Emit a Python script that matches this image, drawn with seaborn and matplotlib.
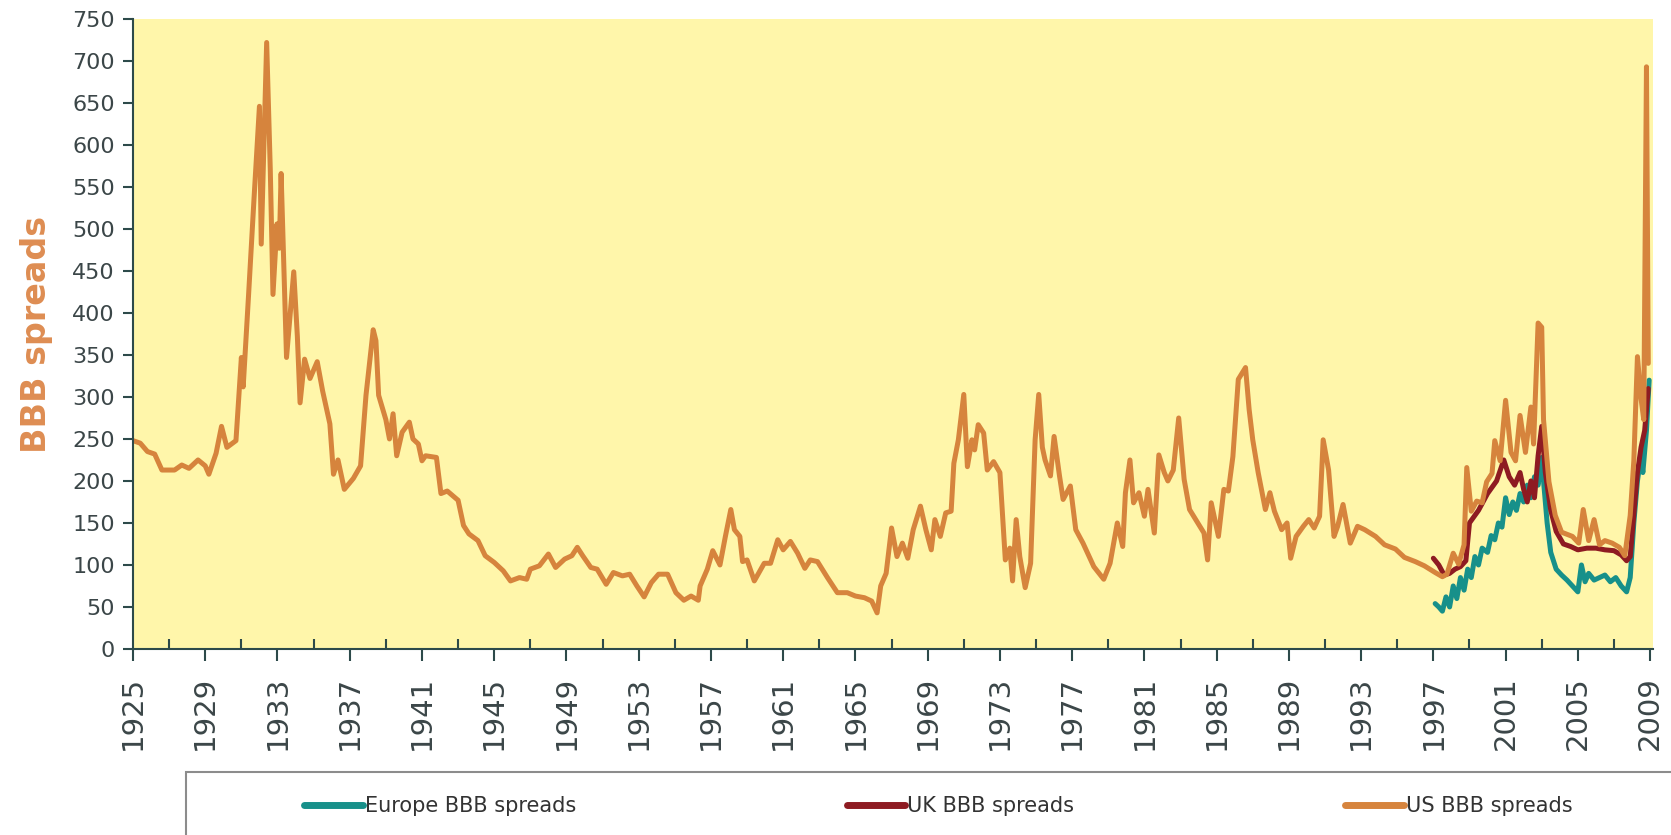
import pandas as pd
import matplotlib
matplotlib.use("Agg")
import matplotlib.pyplot as plt
from matplotlib.patches import Rectangle
import seaborn as sns

# US BBB spreads (bp)
us_years = [1925.0, 1925.4, 1925.8, 1926.2, 1926.6, 1927.3, 1927.7, 1928.1, 1928.6, 1929.0,
            1929.2, 1929.6, 1929.9, 1930.2, 1930.7, 1931.0, 1931.1, 1931.4, 1931.7, 1932.0,
            1932.1, 1932.4, 1932.6, 1932.75, 1932.97, 1933.1, 1933.2, 1933.5, 1933.9, 1934.1,
            1934.25, 1934.5, 1934.8, 1935.2, 1935.5, 1935.9, 1936.1, 1936.35, 1936.7, 1937.2,
            1937.6, 1937.9, 1938.3, 1938.45, 1938.6, 1939.0, 1939.2, 1939.4, 1939.6, 1939.9,
            1940.3, 1940.5, 1940.8, 1941.0, 1941.2, 1941.8, 1942.05, 1942.4, 1943.0, 1943.3,
            1943.6, 1944.1, 1944.5, 1945.0, 1945.5, 1945.9, 1946.4, 1946.8, 1947.0, 1947.5,
            1948.0, 1948.4, 1948.9, 1949.3, 1949.6, 1949.9, 1950.35, 1950.7, 1951.2, 1951.6,
            1952.1, 1952.5, 1952.9, 1953.3, 1953.7, 1954.1, 1954.6, 1955.06, 1955.5, 1955.9,
            1956.3, 1956.4, 1956.8, 1957.1, 1957.5, 1957.8, 1958.1, 1958.3, 1958.6, 1958.75,
            1959.0, 1959.4, 1959.95, 1960.3, 1960.7, 1961.0, 1961.4, 1961.8, 1962.2, 1962.5,
            1962.9, 1963.45, 1964.0, 1964.55, 1965.0, 1965.5, 1965.9, 1966.2, 1966.4, 1966.7,
            1967.0, 1967.3, 1967.6, 1967.9, 1968.2, 1968.6, 1968.9, 1969.2, 1969.4, 1969.7,
            1970.0, 1970.3, 1970.45, 1970.7, 1971.0, 1971.2, 1971.45, 1971.6, 1971.8, 1972.1,
            1972.3, 1972.65, 1973.0, 1973.3, 1973.55, 1973.7, 1973.9, 1974.1, 1974.4, 1974.7,
            1974.95, 1975.15, 1975.35, 1975.5, 1975.8, 1976.0, 1976.3, 1976.5, 1976.9, 1977.2,
            1977.6, 1978.2, 1978.75, 1979.1, 1979.5, 1979.8, 1979.95, 1980.2, 1980.4, 1980.7,
            1981.0, 1981.2, 1981.55, 1981.8, 1982.1, 1982.3, 1982.6, 1982.9, 1983.2, 1983.5,
            1983.9, 1984.3, 1984.5, 1984.7, 1985.1, 1985.4, 1985.65, 1985.9, 1986.2, 1986.6,
            1986.8, 1987.0, 1987.3, 1987.7, 1987.95, 1988.2, 1988.6, 1988.9, 1989.1, 1989.4,
            1989.8, 1990.1, 1990.4, 1990.7, 1990.9, 1991.2, 1991.5, 1991.7, 1992.0, 1992.4,
            1992.8, 1993.2, 1993.8, 1994.3, 1994.9, 1995.4, 1996.0, 1996.5, 1997.1, 1997.5,
            1997.75, 1998.1, 1998.4, 1998.7, 1998.85, 1999.1, 1999.4, 1999.7, 1999.95, 2000.25,
            2000.4, 2000.7, 2001.0, 2001.3, 2001.55, 2001.8, 2002.1, 2002.4, 2002.55, 2002.8,
            2003.0, 2003.1, 2003.4, 2003.75, 2004.1, 2004.7, 2005.05, 2005.3, 2005.6, 2005.9,
            2006.2, 2006.5, 2006.9, 2007.3, 2007.6, 2007.9, 2008.1, 2008.3, 2008.5, 2008.65,
            2008.8, 2008.9]
us_spreads = [248, 245, 235, 232, 213, 213, 219, 215, 225, 218,
              208, 233, 265, 240, 248, 347, 312, 422, 536, 646,
              482, 722, 571, 422, 506, 477, 566, 347, 449, 372,
              293, 345, 322, 342, 307, 268, 208, 225, 190, 203,
              218, 302, 380, 367, 302, 273, 250, 280, 230, 258,
              270, 250, 244, 224, 230, 228, 185, 188, 177, 147,
              137, 129, 111, 103, 93, 81, 85, 83, 95, 99,
              113, 97, 107, 111, 121, 111, 97, 95, 77, 91,
              87, 89, 75, 62, 79, 89, 89, 67, 58, 63,
              58, 75, 95, 117, 100, 134, 166, 142, 134, 104,
              106, 81, 102, 102, 130, 118, 128, 114, 96, 106,
              104, 85, 67, 67, 63, 61, 57, 43, 75, 90,
              144, 110, 126, 108, 142, 170, 142, 118, 154, 134,
              162, 164, 221, 249, 303, 217, 249, 237, 267, 257,
              213, 223, 210, 106, 120, 81, 154, 110, 73, 102,
              249, 303, 240, 225, 206, 253, 206, 178, 194, 142,
              126, 98, 83, 102, 150, 122, 186, 225, 174, 186,
              158, 190, 138, 231, 210, 200, 213, 275, 202, 166,
              152, 138, 106, 174, 134, 190, 188, 229, 321, 335,
              285, 249, 210, 166, 186, 164, 142, 150, 108, 134,
              146, 154, 144, 158, 249, 213, 134, 146, 172, 126,
              146, 142, 134, 124, 119, 109, 104, 99, 91, 86,
              89, 114, 101, 124, 216, 164, 176, 174, 199, 209,
              248, 224, 296, 234, 224, 278, 234, 288, 244, 388,
              383, 273, 199, 159, 139, 134, 126, 166, 129, 154,
              124, 129, 126, 121, 111, 159, 224, 348, 298, 273,
              693, 340]

# UK BBB spreads
uk_years = [1997.0, 1997.3, 1997.6, 1997.9, 1998.2, 1998.5, 1998.8, 1999.0, 1999.5, 2000.0,
            2000.5, 2000.9, 2001.2, 2001.5, 2001.8, 2002.0, 2002.2, 2002.4, 2002.6, 2002.8,
            2003.0, 2003.2, 2003.5, 2003.8, 2004.2, 2004.6, 2005.0, 2005.5, 2006.0, 2006.5,
            2007.0, 2007.4, 2007.7, 2007.9, 2008.1, 2008.3, 2008.5, 2008.7, 2008.9]
uk_spreads = [108, 100, 88, 90, 95, 98, 105, 150, 165, 185,
              200, 225, 205, 195, 210, 190, 175, 200, 180, 230,
              265, 210, 165, 140, 125, 122, 118, 120, 120, 118,
              117, 112, 105, 110, 160, 210, 240, 260, 310]

# Europe BBB spreads
eu_years = [1997.1, 1997.3, 1997.5, 1997.7, 1997.9, 1998.1, 1998.3, 1998.5, 1998.7, 1998.9,
            1999.1, 1999.3, 1999.5, 1999.7, 2000.0, 2000.2, 2000.4, 2000.6, 2000.8, 2001.0,
            2001.2, 2001.4, 2001.6, 2001.8, 2002.0, 2002.2, 2002.4, 2002.6, 2002.8, 2003.0,
            2003.1, 2003.3, 2003.5, 2003.8, 2004.1, 2004.4, 2004.7, 2005.0, 2005.2, 2005.4,
            2005.6, 2005.9, 2006.2, 2006.5, 2006.8, 2007.1, 2007.4, 2007.7, 2007.9, 2008.1,
            2008.3, 2008.5, 2008.6, 2008.8, 2008.95]
eu_spreads = [54, 50, 45, 62, 50, 75, 60, 85, 70, 95,
              85, 110, 100, 120, 115, 135, 130, 150, 145, 180,
              160, 175, 165, 185, 175, 195, 180, 205, 195, 228,
              200, 150, 115, 95, 88, 82, 75, 68, 100, 80,
              90, 82, 85, 88, 80, 85, 75, 68, 85, 150,
              200, 230, 210, 260, 320]

series_names = ['Europe BBB spreads', 'UK BBB spreads', 'US BBB spreads']
series_colors = ['#17908a', '#8e1b22', '#d6843d']
tick_years = list(range(1925, 2010, 4))
minor_years = list(range(1927, 2009, 4))

sns.set_theme(style="ticks")
plt.rcParams['font.family'] = ['DejaVu Sans']

fig = plt.figure(figsize=(16.71, 8.35), dpi=100)
ax = fig.add_axes([0.0796, 0.2228, 0.9095, 0.7545])
ax.set_facecolor('#fff6aa')

data = [(eu_years, eu_spreads), (uk_years, uk_spreads), (us_years, us_spreads)]
for name, (yrs, vals), col in zip(series_names, data, series_colors):
    df = pd.DataFrame({'year': yrs, 'spread': vals})
    sns.lineplot(data=df, x='year', y='spread', color=col, linewidth=3.6,
                 estimator=None, errorbar=None, ax=ax, legend=False)

ax.set_xlim(1925, 2009.15)
ax.set_ylim(0, 750)
ax.set_yticks(range(0, 751, 50))
ax.set_xticks(tick_years)
ax.set_xticks(minor_years, minor=True)
ax.set_xlabel('')
ax.set_ylabel('BBB spreads', fontsize=24, fontweight='bold', color='#de8d52', labelpad=14)

tick_col = '#2d4a4a'
label_col = '#3b4648'
ax.tick_params(axis='x', which='major', direction='out', length=8.5, width=1.5, pad=11,
               labelsize=21, labelrotation=90, color=tick_col, labelcolor=label_col)
ax.tick_params(axis='x', which='minor', direction='in', length=7, width=1.5, color=tick_col)
ax.tick_params(axis='y', direction='out', length=7, width=1.5, pad=6,
               labelsize=16, color=tick_col, labelcolor=label_col)
sns.despine(ax=ax)
for side in ['left', 'bottom']:
    ax.spines[side].set_color(tick_col)
    ax.spines[side].set_linewidth(1.5)

# legend box runs off the bottom right of the figure, as in the original
fig.add_artist(Rectangle((186 / 1671, -0.05), 1.0, 0.05 + 63 / 835, transform=fig.transFigure,
                         fill=False, edgecolor='#8c8c8c', linewidth=1.5))
leg = fig.legend(ax.get_lines()[:3], series_names, loc='center left',
                 bbox_to_anchor=(0.171, 0.0347), ncol=3, frameon=False, fontsize=15,
                 handlelength=2.8, handletextpad=0.1, columnspacing=13, labelcolor='#333333')
for h in leg.legend_handles:
    h.set_linewidth(5)

fig.savefig('out.png', dpi=100, facecolor='white')
